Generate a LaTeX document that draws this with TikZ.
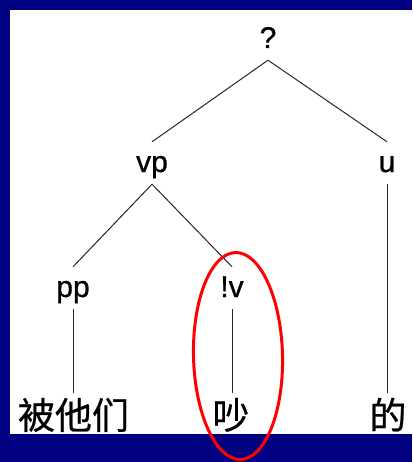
\documentclass[tikz,border=0pt]{standalone}
\usepackage{fontspec}
\newfontfamily\lat[FakeBold=0.8]{Liberation Sans}
\newfontfamily\cjk[FakeBold=0.6]{Noto Sans CJK SC}
\definecolor{navy}{RGB}{0,0,128}
\begin{document}
\begin{tikzpicture}[x=1pt,y=-1pt,
  lbl/.style={font=\lat\fontsize{30}{31}\selectfont, anchor=base, text height=24pt, text depth=6pt, inner sep=6pt},
  word/.style={font=\cjk\fontsize{37}{38}\selectfont, anchor=base, text height=30pt, text depth=4pt, inner sep=6pt},
  branch/.style={draw=black!85, line width=1pt}]
\useasboundingbox (0,0) rectangle (412,462);
\fill[navy] (0,0) rectangle (412,462);
\fill[white] (10,10) rectangle (412,434);
\node[lbl] (q) at (268,48) {?};
\node[lbl] (vp) at (152,172) {vp};
\node[lbl] (u) at (387,172) {u};
\node[lbl] (pp) at (73,297) {pp};
\node[lbl] (lv) at (232,297) {!v};
\node[word] (w1) at (73.5,429) {被他们};
\node[word] (w2) at (231,429) {吵};
\node[word] (w3) at (388,429) {的};
\draw[branch] (q.south) -- (vp.north);
\draw[branch] (q.south) -- (u.north);
\draw[branch] (vp.south) -- (pp.north);
\draw[branch] (vp.south) -- (lv.north);
\draw[branch] (pp.south) -- (pp.south |- w1.north);
\draw[branch] (lv.south) -- (lv.south |- w2.north);
\draw[branch] (u.south) -- (u.south |- w3.north);
\draw[red, line width=3pt, rotate around={1.4:(238,356)}] (238,356) ellipse [x radius=44.5, y radius=103.5];
\end{tikzpicture}
\end{document}
